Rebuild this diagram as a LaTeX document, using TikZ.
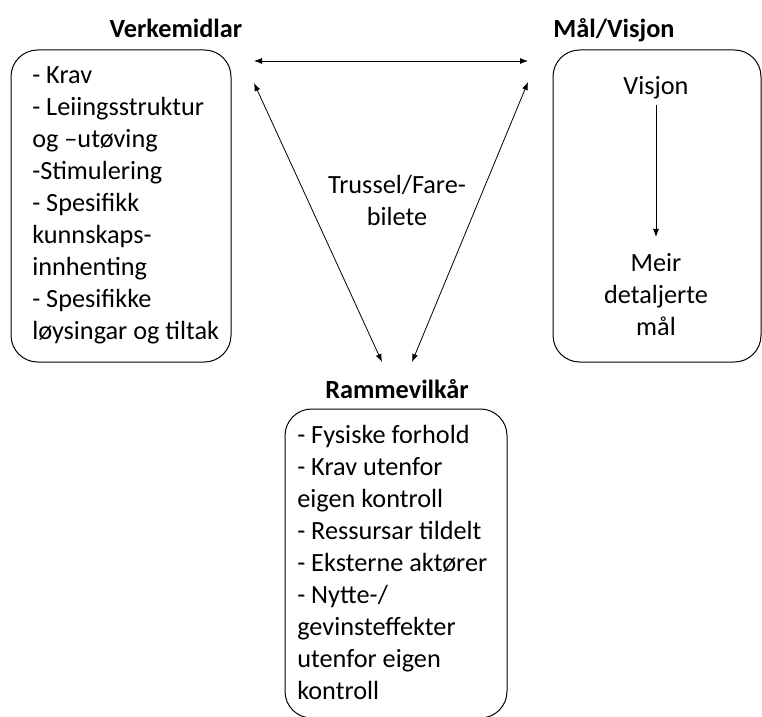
\documentclass[tikz,border=0pt]{standalone}
\usepackage{fontspec}
\setmainfont{Carlito}
\usetikzlibrary{arrows.meta}
\begin{document}
\begin{tikzpicture}[x=0.75pt,y=-0.75pt,
  box/.style={draw, line width=0.75pt, rounded corners=20pt, rectangle, inner sep=0pt},
  txt/.style={inner sep=0pt, font=\fontsize{19.7}{24}\selectfont},
  ttl/.style={inner sep=0pt, font=\fontsize{19.7}{24}\selectfont\bfseries},
  arr/.style={line width=0.6pt, {Latex[length=6pt,width=4.5pt]}-{Latex[length=6pt,width=4.5pt]}},
  oarr/.style={line width=0.6pt, -{Latex[length=6pt,width=4.5pt]}}]
\useasboundingbox (0,0) rectangle (762,716);
\clip (0,0) rectangle (762,716);
\fill[white] (0,0) rectangle (762,716);

% boxes
\node[box, minimum width=165pt, minimum height=234pt] (lbox) at (121,206) {};
\node[box, minimum width=156pt, minimum height=234pt] (rbox) at (657,206) {};
\node[box, minimum width=166.5pt, minimum height=231.75pt] (bbox) at (396,563.5) {};

% titles
\node[ttl, anchor=base] (ltitle) at (176,38) {Verkemidlar};
\node[ttl, anchor=base] (rtitle) at (614,38) {Mål/Visjon};
\node[ttl, anchor=base] (btitle) at (397,398) {Rammevilkår};

% left text
\node[txt, anchor=north west, align=left] (ltext) at (32,60.6)
 {\strut- Krav\\- Leiingsstruktur\\og –utøving\\-Stimulering\\- Spesifikk\\kunnskaps-\\innhenting\\- Spesifikke\\løysingar og tiltak};

% right text
\node[txt, anchor=base] (visjon) at (656,95) {Visjon};
\node[txt, anchor=north, align=center] (meir) at (656,248.6)
 {\strut Meir\\detaljerte\\mål};

% bottom text
\node[txt, anchor=north west, align=left] (btext) at (297,420.6)
 {\strut- Fysiske forhold\\- Krav utenfor\\eigen kontroll\\- Ressursar tildelt\\- Eksterne aktører\\- Nytte-/\\gevinsteffekter\\utenfor eigen\\kontroll};

% centre text
\node[txt, anchor=north, align=center] (truss) at (397,170.6)
 {\strut Trussel/Fare-\\bilete};

% arrow end points
\coordinate (hl) at (254,61);
\coordinate (hr) at (528,61);
\coordinate (dl1) at (254,83);
\coordinate (dl2) at (382,362);
\coordinate (dr1) at (528,82);
\coordinate (dr2) at (412,362);
\coordinate (v1) at (656,105);
\coordinate (v2) at (656,237);

\draw[arr] (hl) -- (hr);
\draw[arr] (dl1) -- (dl2);
\draw[arr] (dr1) -- (dr2);
\draw[oarr] (v1) -- (v2);
\end{tikzpicture}
\end{document}
